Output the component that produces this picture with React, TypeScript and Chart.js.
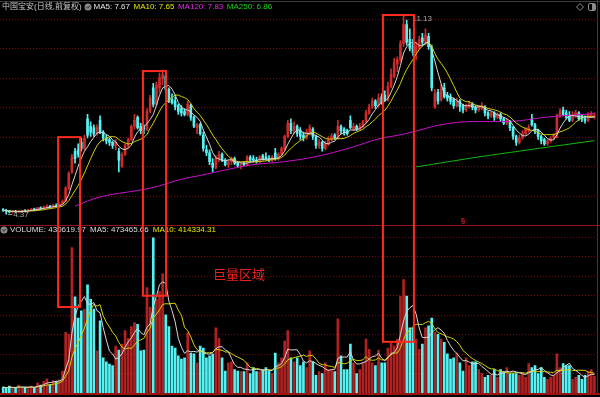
import React, { useEffect, useRef } from 'react';
import { Chart, registerables } from 'chart.js';
Chart.register(...registerables);

// ---- data (daily candles, price in CNY, volume in millions of shares) ----
const opens = [
  4.52,4.50,4.47,4.44,4.46,4.44,4.47,4.49,4.47,4.51,4.54,4.52,4.58,4.56,4.60,4.64,4.61,4.67,4.64,4.72,
  4.82,5.25,5.80,6.50,6.55,6.80,6.60,7.60,7.35,7.30,7.10,7.55,7.15,6.95,6.90,6.80,6.70,6.50,6.00,6.40,
  6.70,6.90,7.35,7.65,7.35,7.30,7.25,7.85,8.65,8.10,8.65,8.95,9.05,8.60,8.25,8.20,8.05,7.95,7.85,7.75,
  8.05,7.65,7.30,7.40,7.05,6.55,6.45,6.10,5.95,6.25,6.40,6.20,6.05,6.15,6.25,6.10,6.00,6.10,6.05,6.30,
  6.25,6.20,6.15,6.35,6.30,6.25,6.20,6.45,6.25,6.40,6.60,7.00,7.45,7.20,7.35,7.20,7.05,6.95,7.10,7.25,
  7.00,6.70,6.80,6.60,6.75,6.90,7.05,6.95,7.35,7.25,7.20,7.55,7.25,7.35,7.25,7.35,7.50,7.80,8.00,8.20,
  8.05,8.35,8.40,8.25,8.70,9.05,9.45,9.60,10.15,10.80,10.30,10.10,9.85,10.00,10.35,10.20,10.40,10.00,8.00,8.50,
  8.25,8.65,8.40,8.35,8.25,8.05,8.20,8.05,7.90,8.00,8.10,8.00,7.90,7.95,8.00,7.80,7.70,7.80,7.65,7.75,
  7.60,7.45,7.50,7.30,7.00,6.80,6.95,7.10,7.20,7.60,7.40,7.20,7.00,6.90,6.75,6.85,6.95,7.00,7.70,7.90,
  7.80,7.70,7.55,7.70,7.80,7.70,7.60,7.55,7.70,7.65,
];
const highs = [
  4.56,4.53,4.50,4.48,4.50,4.49,4.51,4.52,4.53,4.56,4.57,4.60,4.62,4.64,4.68,4.67,4.70,4.72,4.74,4.85,
  5.30,5.80,6.40,6.60,6.75,6.95,7.05,7.75,7.50,7.40,7.40,7.70,7.20,7.05,6.95,6.85,6.90,6.60,6.45,6.75,
  6.95,7.40,7.75,7.70,7.45,7.40,7.95,8.40,8.80,8.85,9.15,9.25,9.15,8.65,8.45,8.35,8.10,8.05,7.95,8.20,
  8.10,7.70,7.45,7.45,7.15,6.70,6.55,6.25,6.35,6.50,6.45,6.25,6.20,6.30,6.30,6.15,6.10,6.15,6.35,6.35,
  6.35,6.30,6.35,6.40,6.45,6.35,6.35,6.60,6.45,6.65,7.05,7.55,7.60,7.50,7.40,7.30,7.15,7.25,7.40,7.30,
  7.05,6.90,6.85,6.85,7.00,7.10,7.10,7.55,7.40,7.30,7.25,7.70,7.45,7.40,7.45,7.55,7.90,8.10,8.30,8.25,
  8.45,8.45,8.55,8.85,9.30,9.65,9.70,10.25,11.13,10.95,10.65,10.30,10.20,10.40,10.50,10.65,10.50,10.10,8.60,8.60,
  8.75,8.80,8.50,8.45,8.30,8.30,8.25,8.10,8.10,8.20,8.15,8.05,8.05,8.15,8.05,7.85,7.85,7.85,7.80,7.80,
  7.65,7.60,7.55,7.35,7.05,7.05,7.20,7.30,7.40,7.75,7.45,7.25,7.05,6.95,6.90,7.00,7.10,7.75,7.95,8.00,
  7.90,7.85,7.85,7.90,7.85,7.75,7.70,7.80,7.85,7.80,
];
const lows = [
  4.46,4.37,4.41,4.40,4.42,4.41,4.44,4.45,4.45,4.48,4.49,4.50,4.53,4.54,4.57,4.58,4.59,4.62,4.62,4.70,
  4.80,5.20,5.75,6.10,6.30,6.50,6.55,6.95,7.00,7.00,7.05,7.10,6.85,6.75,6.70,6.60,6.55,5.80,5.95,6.35,
  6.60,6.85,7.25,7.25,7.10,7.10,7.20,7.80,8.00,8.05,8.50,8.75,8.50,8.15,8.10,7.90,7.75,7.70,7.70,7.70,
  7.55,7.30,7.10,7.05,6.50,6.35,6.05,5.80,5.90,6.15,6.15,6.00,5.95,6.05,6.05,5.95,5.90,6.00,6.00,6.15,
  6.15,6.10,6.10,6.20,6.20,6.15,6.15,6.20,6.20,6.35,6.55,6.95,7.10,7.10,7.00,6.90,6.85,6.90,7.05,6.90,
  6.60,6.60,6.50,6.55,6.70,6.85,6.90,6.90,7.10,7.05,7.05,7.25,7.20,7.20,7.20,7.30,7.45,7.75,7.95,7.95,
  8.00,8.10,8.20,8.20,8.65,9.00,9.20,9.55,10.05,10.10,9.90,9.75,9.60,9.95,10.10,10.10,9.95,8.55,7.95,8.10,
  8.20,8.30,8.20,8.10,7.95,8.00,7.85,7.80,7.85,7.95,7.90,7.80,7.85,7.90,7.70,7.60,7.65,7.55,7.60,7.50,
  7.40,7.40,7.20,6.90,6.70,6.75,6.90,7.05,7.15,7.35,7.10,6.90,6.75,6.70,6.70,6.80,6.90,6.95,7.65,7.70,
  7.60,7.50,7.50,7.65,7.55,7.50,7.45,7.50,7.65,7.60,
];
const closes = [
  4.50,4.47,4.44,4.46,4.44,4.47,4.49,4.47,4.51,4.54,4.52,4.58,4.56,4.62,4.64,4.61,4.67,4.64,4.72,4.80,
  5.25,5.75,6.30,6.25,6.40,6.60,6.95,7.05,7.15,7.10,7.30,7.15,6.95,6.85,6.80,6.70,6.80,6.20,6.40,6.70,
  6.90,7.35,7.55,7.30,7.20,7.25,7.85,8.30,8.10,8.75,9.00,9.10,8.60,8.20,8.15,8.00,7.85,7.80,7.75,8.10,
  7.65,7.35,7.40,7.10,6.60,6.45,6.15,5.95,6.25,6.40,6.20,6.05,6.15,6.25,6.10,6.00,6.05,6.05,6.30,6.20,
  6.20,6.15,6.30,6.25,6.25,6.20,6.30,6.25,6.40,6.60,7.00,7.45,7.20,7.35,7.10,7.00,6.95,7.15,7.30,7.00,
  6.70,6.80,6.60,6.75,6.90,7.00,6.95,7.35,7.20,7.15,7.10,7.30,7.35,7.25,7.35,7.50,7.80,8.00,8.20,8.05,
  8.30,8.15,8.25,8.70,9.10,9.50,9.60,10.15,10.80,10.20,10.00,9.85,10.05,10.30,10.20,10.45,10.05,8.65,8.45,8.20,
  8.60,8.35,8.30,8.20,8.05,8.20,8.00,7.90,8.05,8.10,8.00,7.90,8.00,8.05,7.80,7.70,7.80,7.65,7.75,7.60,
  7.45,7.55,7.30,7.00,6.80,6.95,7.10,7.25,7.30,7.40,7.20,7.00,6.85,6.75,6.85,6.95,7.05,7.70,7.85,7.75,
  7.65,7.55,7.75,7.80,7.60,7.60,7.55,7.75,7.75,7.70,
];
const volumes = [
  0.15,0.12,0.18,0.12,0.14,0.20,0.12,0.15,0.13,0.18,0.14,0.26,0.20,0.30,0.36,0.22,0.32,0.30,0.34,0.56,
  1.55,1.50,3.72,2.46,1.92,2.10,2.15,2.77,2.40,2.15,1.08,1.85,0.90,0.80,0.74,0.70,1.20,1.10,1.25,1.60,
  1.40,1.70,1.80,1.76,1.08,1.10,2.70,2.20,3.97,2.40,2.60,3.05,2.00,1.70,1.20,1.15,0.95,0.87,0.90,1.54,
  1.02,1.00,0.77,1.20,1.15,0.90,0.95,1.00,1.67,1.40,0.90,0.56,0.77,0.80,0.60,0.56,0.55,0.55,0.77,0.50,
  0.65,0.55,0.56,0.60,0.65,0.56,0.50,1.02,0.77,0.90,1.33,1.60,0.90,0.80,0.90,0.70,0.80,0.65,1.08,0.80,
  0.45,0.55,0.50,0.77,0.60,0.60,0.55,1.90,0.95,0.60,0.60,1.25,0.77,0.50,0.60,0.77,1.38,1.12,0.77,0.70,
  1.10,0.77,0.77,1.15,1.28,1.20,1.38,2.48,2.90,2.48,1.67,1.67,1.38,1.12,1.25,1.67,1.72,1.92,1.55,1.50,
  1.38,1.30,1.00,0.87,0.90,1.02,0.77,0.56,0.90,0.70,0.80,0.80,0.60,0.50,0.40,0.45,0.45,0.60,0.40,0.60,
  0.55,0.65,0.50,0.50,0.50,0.45,0.50,0.40,0.75,0.65,0.70,0.50,0.65,0.40,0.35,0.40,0.45,1.00,0.65,0.75,
  0.70,0.70,0.35,0.40,0.45,0.35,0.45,0.55,0.60,0.43,
];
// long moving averages: [candle index, value]
const ma120Points = [
  [23,4.64],[31,4.95],[47,5.25],[57,5.55],[63,5.68],[79,6.03],[90,6.15],[100,6.32],[111,6.62],
  [120,6.92],[127,7.06],[131,7.16],[140,7.40],[148,7.50],[163,7.52],[174,7.66],[189,7.78],
];
const ma250Points = [[132,5.97],[152,6.31],[174,6.64],[189,6.86]];

const stockTitle = '中国宝安(日线,前复权)';
const priceLegend = [
  { text: 'MA5: 7.67', color: '#e6e6e6' },
  { text: 'MA10: 7.65', color: '#e8e800' },
  { text: 'MA120: 7.83', color: '#e628e6' },
  { text: 'MA250: 6.86', color: '#18d418' },
];
const volumeLegend = [
  { text: 'VOLUME: 430619.97', color: '#dcdcdc' },
  { text: 'MA5: 473465.66', color: '#dcdcdc' },
  { text: 'MA10: 414334.31', color: '#e8e800' },
];
const priceGridValues = [5, 6, 7, 8, 9, 10, 11];
const volumeGridValues = [0.5, 1, 1.5, 2, 2.5, 3, 3.5, 4];
// highlighted "huge volume" zones: candle index range, top price, bottom volume
const highlightZones = [
  { from: 17.6, to: 24.6, topPrice: 6.98, bottomVolume: 2.2 },
  { from: 44.7, to: 52.1, topPrice: 9.22, bottomVolume: 2.49 },
  { from: 121.4, to: 131.3, topPrice: 11.12, bottomVolume: 1.31 },
];
const zoneLabel = { text: '巨量区域', index: 67.1, volume: 3.05 };
const markerIndex = 147;

const UP = '#d02a2a';
const DOWN = '#54f2f2';
const VOL_UP = '#b02222';

function movingAverage(values: number[], n: number): number[] {
  return values.map((_, i) => {
    const s = Math.max(0, i - n + 1);
    const part = values.slice(s, i + 1);
    return part.reduce((a, b) => a + b, 0) / part.length;
  });
}
function sparseSeries(points: number[][], len: number): (number | null)[] {
  const arr: (number | null)[] = new Array(len).fill(null);
  points.forEach(([i, v]) => { arr[i] = v; });
  return arr;
}

const FONT = '"Liberation Sans", "Noto Sans CJK SC", sans-serif';

export default function App() {
  const ref = useRef<HTMLCanvasElement>(null);
  useEffect(() => {
    if (!ref.current) return;
    const n = closes.length;
    const labels = closes.map((_, i) => i);
    const isUp = closes.map((c, i) => c >= opens[i]);
    const candleColors = isUp.map(u => (u ? UP : DOWN));
    const volColors = isUp.map(u => (u ? VOL_UP : DOWN));
    const bodies = opens.map((o, i) => (o === closes[i] ? [o, o + 0.01] : [o, closes[i]]));
    const wicks = lows.map((l, i) => [l, highs[i]]);

    const overlay = {
      id: 'overlay',
      beforeDraw(chart: any) {
        const { ctx, width, height } = chart;
        ctx.save();
        ctx.fillStyle = '#000';
        ctx.fillRect(0, 0, width, height);
        ctx.restore();
      },
      beforeDatasetsDraw(chart: any) {
        const { ctx, chartArea } = chart;
        const ys = chart.scales.y, yv = chart.scales.yv;
        ctx.save();
        ctx.strokeStyle = '#7c0a0a';
        ctx.lineWidth = 1;
        ctx.setLineDash([1, 2]);
        const line = (y: number) => {
          const yy = Math.round(y) + 0.5;
          ctx.beginPath(); ctx.moveTo(0, yy); ctx.lineTo(chartArea.right + 1, yy); ctx.stroke();
        };
        priceGridValues.forEach(v => line(ys.getPixelForValue(v)));
        volumeGridValues.forEach(v => line(yv.getPixelForValue(v)));
        ctx.restore();
      },
      afterDatasetsDraw(chart: any) {
        const { ctx, width } = chart;
        const xs = chart.scales.x, ys = chart.scales.y, yv = chart.scales.yv;
        ctx.save();
        // borders
        ctx.lineWidth = 1;
        ctx.strokeStyle = '#3c3c3c';
        ctx.beginPath(); ctx.moveTo(0, 1.5); ctx.lineTo(width, 1.5); ctx.stroke();
        ctx.beginPath(); ctx.moveTo(597.5, 0); ctx.lineTo(597.5, ys.bottom); ctx.stroke();
        ctx.strokeStyle = '#9c1212';
        const sep = Math.round(ys.bottom) + 0.5;
        ctx.beginPath(); ctx.moveTo(0, sep); ctx.lineTo(width, sep); ctx.stroke();
        ctx.beginPath(); ctx.moveTo(597.5, sep); ctx.lineTo(597.5, yv.bottom); ctx.stroke();
        ctx.lineWidth = 2;
        ctx.beginPath(); ctx.moveTo(0, yv.bottom + 1); ctx.lineTo(width, yv.bottom + 1); ctx.stroke();

        // high / low labels
        ctx.font = '8px ' + FONT;
        ctx.textBaseline = 'middle';
        ctx.fillStyle = '#a8a8a8';
        ctx.strokeStyle = '#a8a8a8';
        ctx.lineWidth = 1;
        let hi = 0, lo = 0;
        highs.forEach((h, i) => { if (h > highs[hi]) hi = i; });
        lows.forEach((l, i) => { if (l < lows[lo]) lo = i; });
        const hx = xs.getPixelForValue(hi), hy = ys.getPixelForValue(highs[hi]);
        ctx.beginPath(); ctx.moveTo(hx + 2, hy + 0.5); ctx.lineTo(hx + 8, hy + 0.5); ctx.stroke();
        ctx.fillText(highs[hi].toFixed(2), hx + 9, hy + 4);
        const lx = xs.getPixelForValue(lo), ly = ys.getPixelForValue(lows[lo]);
        ctx.beginPath(); ctx.moveTo(lx + 2, ly + 0.5); ctx.lineTo(lx + 6, ly + 0.5); ctx.stroke();
        ctx.fillText(lows[lo].toFixed(2), lx + 7, ly + 1);

        // small marker above separator
        ctx.fillStyle = '#e01c1c';
        ctx.font = 'bold 8px ' + FONT;
        ctx.textAlign = 'center';
        ctx.textBaseline = 'bottom';
        ctx.fillText('§', xs.getPixelForValue(markerIndex), ys.bottom);
        ctx.textAlign = 'left';

        // price legend
        ctx.textBaseline = 'middle';
        ctx.font = '8px ' + FONT;
        let x = 2;
        const ty = 7;
        ctx.fillStyle = '#c8c8c8';
        ctx.fillText(stockTitle, x, ty);
        x += ctx.measureText(stockTitle).width + 3;
        const icon = (cx: number, cy: number) => {
          ctx.fillStyle = '#8a8a8a';
          ctx.beginPath(); ctx.arc(cx, cy, 3.5, 0, Math.PI * 2); ctx.fill();
          ctx.strokeStyle = '#2a2a2a'; ctx.lineWidth = 1;
          ctx.beginPath(); ctx.moveTo(cx - 1.8, cy - 0.5); ctx.lineTo(cx - 0.3, cy + 1.3); ctx.lineTo(cx + 1.8, cy - 1.5); ctx.stroke();
        };
        icon(x + 3.5, ty);
        x += 9;
        priceLegend.forEach(item => {
          ctx.fillStyle = item.color;
          ctx.fillText(item.text, x, ty);
          x += ctx.measureText(item.text).width + 3.5;
        });
        // volume legend
        const vy = sep + 4.5;
        icon(4, vy);
        x = 10;
        volumeLegend.forEach(item => {
          ctx.fillStyle = item.color;
          ctx.fillText(item.text, x, vy);
          x += ctx.measureText(item.text).width + 4;
        });

        // top-right icons
        ctx.strokeStyle = '#8a8a8a'; ctx.lineWidth = 1;
        ctx.beginPath(); ctx.moveTo(580, 3.5); ctx.lineTo(583.5, 7); ctx.lineTo(580, 10.5); ctx.lineTo(576.5, 7); ctx.closePath(); ctx.stroke();
        ctx.beginPath(); ctx.roundRect(588.5, 3.5, 7, 7, 1.5); ctx.stroke();
        ctx.fillStyle = '#8a8a8a'; ctx.fillRect(592, 4, 3, 6);

        // highlighted zones
        ctx.strokeStyle = '#ff2a1e';
        ctx.lineWidth = 2;
        highlightZones.forEach(z => {
          const x1 = xs.getPixelForValue(z.from), x2 = xs.getPixelForValue(z.to);
          const y1 = ys.getPixelForValue(z.topPrice), y2 = yv.getPixelForValue(z.bottomVolume);
          ctx.strokeRect(x1, y1, x2 - x1, y2 - y1);
        });
        ctx.fillStyle = '#e8221c';
        ctx.font = '13px "Noto Sans CJK SC", sans-serif';
        ctx.textBaseline = 'middle';
        ctx.fillText(zoneLabel.text, xs.getPixelForValue(zoneLabel.index), yv.getPixelForValue(zoneLabel.volume));
        ctx.restore();
      },
    };

    const lineDs = (data: any[], color: string, axis: string, extra: any = {}) => ({
      type: 'line' as const, data, borderColor: color, borderWidth: 1, pointRadius: 0,
      yAxisID: axis, order: 1, ...extra,
    });

    const chart = new Chart(ref.current, {
      type: 'bar',
      data: {
        labels,
        datasets: [
          { type: 'bar', data: wicks as any, backgroundColor: candleColors, barThickness: 1, grouped: false, yAxisID: 'y', order: 5 },
          { type: 'bar', data: bodies as any, backgroundColor: candleColors, barThickness: 2, grouped: false, yAxisID: 'y', order: 4 },
          lineDs(movingAverage(closes, 5), '#d6d6d6', 'y'),
          lineDs(movingAverage(closes, 10), '#d2d200', 'y'),
          lineDs(sparseSeries(ma120Points, n), '#cc10cc', 'y', { spanGaps: true, tension: 0.4 }),
          lineDs(sparseSeries(ma250Points, n), '#10b810', 'y', { spanGaps: true }),
          { type: 'bar', data: volumes, backgroundColor: volColors, barThickness: 2, grouped: false, yAxisID: 'yv', order: 4 },
          lineDs(movingAverage(volumes, 5), '#d6d6d6', 'yv'),
          lineDs(movingAverage(volumes, 10), '#d2d200', 'yv'),
        ] as any,
      },
      options: {
        animation: false,
        responsive: true,
        maintainAspectRatio: false,
        layout: { padding: { left: 1.5, right: 4, top: 0, bottom: 4 } },
        plugins: { legend: { display: false }, tooltip: { enabled: false } },
        scales: {
          x: { type: 'category', offset: true, display: false, grid: { display: false } },
          yv: {
            type: 'linear', position: 'left', stack: 'panels', stackWeight: 168,
            min: 0, max: 4.3,
            ticks: { display: false }, grid: { display: false, drawTicks: false }, border: { display: false },
          },
          y: {
            type: 'linear', position: 'left', stack: 'panels', stackWeight: 225,
            min: 4.0, max: 11.63,
            ticks: { display: false }, grid: { display: false, drawTicks: false }, border: { display: false },
          },
        },
      } as any,
      plugins: [overlay],
    });
    return () => chart.destroy();
  }, []);
  return (
    <div style={{ position: 'fixed', left: 0, top: 0, width: 600, height: 397, background: '#000' }}>
      <canvas ref={ref} />
    </div>
  );
}
